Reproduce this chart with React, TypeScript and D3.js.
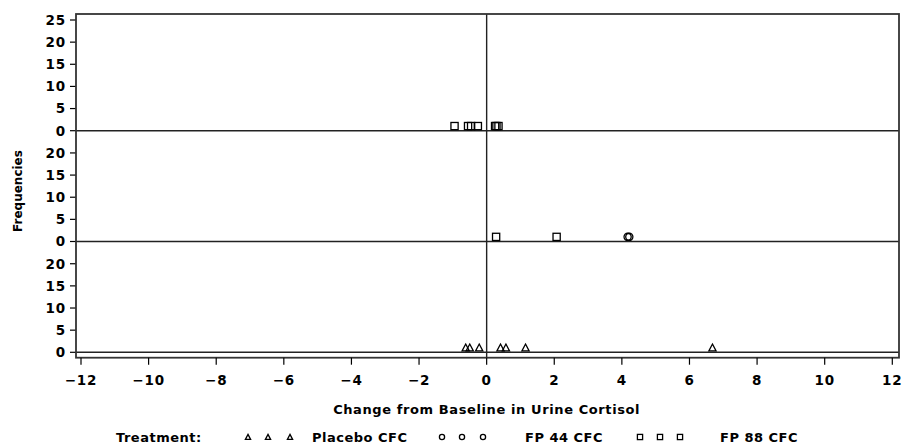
import React from "react";
import * as d3 from "d3";

// Change from baseline per subject, each plotted at a frequency of 1
const topSquares = [-0.95, -0.55, -0.46, -0.26, 0.25, 0.29, 0.35];
const midSquares = [0.28, 2.07];
const midCircles = [4.17, 4.22];
const bottomTriangles = [-0.62, -0.5, -0.22, 0.41, 0.57, 1.15, 6.68];

const xTicks = [-12, -10, -8, -6, -4, -2, 0, 2, 4, 6, 8, 10, 12];
const topYTicks = [0, 5, 10, 15, 20, 25];
const panelYTicks = [0, 5, 10, 15, 20];

const legendItems = [
  { label: "Placebo CFC", shape: "triangle" },
  { label: "FP 44 CFC", shape: "circle" },
  { label: "FP 88 CFC", shape: "square" },
];

const W = 903;
const H = 447;
const FONT = "'DejaVu Sans', sans-serif";

const frame = { left: 76, right: 899, top: 14, bottom: 357.7 };

const x = d3.scaleLinear().domain([-12, 12]).range([81, 892.3]);
// Baseline of each stacked panel, panel 0 at the bottom
const panelBase = d3.scaleLinear().domain([0, 2]).range([352.3, 130.7]);
// Frequency offset within a panel
const freq = d3.scaleLinear().domain([0, 25]).range([0, -110.7]);

function Marker({ shape, cx, cy, r }: { shape: string; cx: number; cy: number; r: number }) {
  const common = { fill: "none", stroke: "#000", strokeWidth: 1.3 };
  if (shape === "square") {
    return <rect x={cx - r} y={cy - r} width={2 * r} height={2 * r} {...common} />;
  }
  if (shape === "circle") {
    return <circle cx={cx} cy={cy} r={r} {...common} />;
  }
  const p = `M${cx},${cy - r}L${cx + r},${cy + r * 0.9}L${cx - r},${cy + r * 0.9}Z`;
  return <path d={p} {...common} />;
}

export default function App() {
  const panels = [
    { idx: 2, ticks: topYTicks, points: topSquares.map((v) => ({ v, shape: "square" })) },
    {
      idx: 1,
      ticks: panelYTicks,
      points: [
        ...midSquares.map((v) => ({ v, shape: "square" })),
        ...midCircles.map((v) => ({ v, shape: "circle" })),
      ],
    },
    { idx: 0, ticks: panelYTicks, points: bottomTriangles.map((v) => ({ v, shape: "triangle" })) },
  ];

  const legendY = 438;
  const legendMarkersX = [
    [248, 268, 290],
    [442, 462, 483],
    [640, 660, 680],
  ];
  const legendLabelX = [312, 525, 720];

  return (
    <svg
      width={W}
      height={H}
      style={{ position: "absolute", left: 0, top: 0, background: "#fff" }}
      fontFamily={FONT}
      fontWeight="bold"
    >
      {/* panels: y ticks, baselines, markers */}
      {panels.map((p) => {
        const base = panelBase(p.idx);
        return (
          <g key={p.idx}>
            {p.ticks.map((t) => (
              <g key={t} transform={`translate(0,${base + freq(t)})`}>
                <line x1={70} x2={frame.left} stroke="#000" strokeWidth={1.2} />
                <text x={66} dy="0.36em" textAnchor="end" fontSize={13.5} letterSpacing={0.8}>
                  {t}
                </text>
              </g>
            ))}
            <line x1={frame.left} x2={frame.right} y1={base} y2={base} stroke="#222" strokeWidth={1.6} />
            {p.points.map((d, i) => (
              <Marker key={i} shape={d.shape} cx={x(d.v)} cy={base + freq(1) - 0.2} r={3.6} />
            ))}
          </g>
        );
      })}

      {/* zero reference line */}
      <line x1={x(0)} x2={x(0)} y1={frame.top} y2={frame.bottom} stroke="#222" strokeWidth={1.4} />

      {/* frame */}
      <rect
        x={frame.left}
        y={frame.top}
        width={frame.right - frame.left}
        height={frame.bottom - frame.top}
        fill="none"
        stroke="#333"
        strokeWidth={1.8}
      />

      {/* x axis */}
      {xTicks.map((t) => (
        <g key={t} transform={`translate(${x(t)},0)`}>
          <line y1={frame.bottom} y2={frame.bottom + 7} stroke="#000" strokeWidth={1.2} />
          <text y={385} textAnchor="middle" fontSize={13.5} letterSpacing={0.8}>
            {t < 0 ? `\u2212${Math.abs(t)}` : t}
          </text>
        </g>
      ))}
      <text x={(x(-12) + x(12)) / 2} y={414} textAnchor="middle" fontSize={13} letterSpacing={0.6}>
        Change from Baseline in Urine Cortisol
      </text>

      {/* y axis title */}
      <text transform="translate(22,191) rotate(-90)" textAnchor="middle" fontSize={12}>
        Frequencies
      </text>

      {/* legend */}
      <text x={116} y={legendY + 4} fontSize={13} letterSpacing={0.5}>
        Treatment:
      </text>
      {legendItems.map((item, i) => (
        <g key={item.label}>
          {legendMarkersX[i].map((mx, j) => (
            <Marker key={j} shape={item.shape} cx={mx} cy={legendY - 1} r={2.6} />
          ))}
          <text x={legendLabelX[i]} y={legendY + 4} fontSize={13} letterSpacing={0.5}>
            {item.label}
          </text>
        </g>
      ))}
    </svg>
  );
}
